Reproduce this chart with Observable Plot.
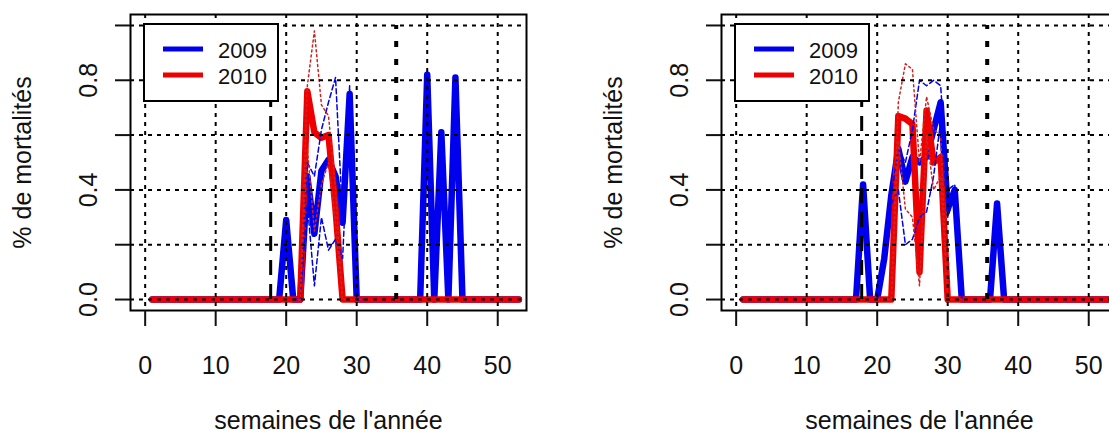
<!DOCTYPE html>
<html>
<head>
<meta charset="utf-8">
<script src="https://cdn.jsdelivr.net/npm/d3@7"></script>
<script src="https://cdn.jsdelivr.net/npm/@observablehq/plot@0.6"></script>
<style>
  html, body { margin: 0; padding: 0; background: white; overflow: hidden; width: 1109px; height: 436px; }
  #wrap { display: flex; width: 1182px; }
  .panel { position: relative; width: 591px; height: 436px; flex: none; }
  .legend { position: absolute; }
</style>
</head>
<body>
<div id="wrap"></div>
<script>
// ---- data ----
const weeks = d3.range(1, 54); // semaines 1..53

// left panel (A)
const blue2009A = [0,0,0,0,0,0,0,0,0,0, 0,0,0,0,0,0,0,0,0,0.29, 0,0,0.45,0.24,0.47,0.51,0.45,0.28,0.75,0,
                   0,0,0,0,0,0,0,0,0,0.82, 0,0.61,0,0.81,0,0,0,0,0,0, 0,0,0];
const red2010A  = [0,0,0,0,0,0,0,0,0,0, 0,0,0,0,0,0,0,0,0,0, 0,0,0.76,0.61,0.59,0.60,0.33,0,0,0,
                   0,0,0,0,0,0,0,0,0,0, 0,0,0,0,0,0,0,0,0,0, 0,0,0];
const thinWeeksA = [21,22,23,24,25,26,27,28,29,30,31];
const blueHiA = [0,0,0.50,0.45,0.62,0.72,0.81,0.30,0.78,0,0];
const blueLoA = [0,0,0.35,0.05,0.30,0.18,0.22,0.15,0.70,0,0];
const redHiA  = [0,0,0.78,0.98,0.71,0.67,0.40,0,0,0,0];
const redLoA  = [0,0,0.55,0.25,0.42,0.50,0.28,0,0,0,0];

// right panel (B)
const blue2009B = [0,0,0,0,0,0,0,0,0,0, 0,0,0,0,0,0,0,0.42,0,0, 0.15,0.38,0.55,0.43,0.52,0.50,0.52,0.62,0.72,0.33,
                   0.40,0,0,0,0,0,0.35,0,0,0, 0,0,0,0,0,0,0,0,0,0, 0,0,0];
const red2010B  = [0,0,0,0,0,0,0,0,0,0, 0,0,0,0,0,0,0,0,0,0, 0,0,0.67,0.66,0.64,0.10,0.69,0.50,0.52,0,
                   0,0,0,0,0,0,0,0,0,0, 0,0,0,0,0,0,0,0,0,0, 0,0,0];
const thinWeeksB = [20,21,22,23,24,25,26,27,28,29,30,31,32];
const blueHiB = [0,0.15,0.38,0.55,0.50,0.62,0.80,0.78,0.80,0.78,0.40,0.42,0];
const blueLoB = [0,0.15,0.35,0.40,0.20,0.22,0.30,0.32,0.45,0.65,0.30,0.38,0];
const redHiB  = [0,0,0,0.72,0.86,0.84,0.50,0.74,0.62,0.60,0,0,0];
const redLoB  = [0,0,0,0.58,0.33,0.30,0.05,0.60,0.40,0.45,0,0,0];

const refDashed = [17.8];
const refDotted = [35.6];

const xTicks = [0, 10, 20, 30, 40, 50];
const yTicks = [0, 0.2, 0.4, 0.6, 0.8, 1.0];
const yTickLabels = ["0.0", "", "0.4", "", "0.8", ""];
const seriesNames = ["2009", "2010"];
const seriesColors = ["#0000ee", "#ee0000"];

const panels = [
  {blue: blue2009A, red: red2010A, tw: thinWeeksA, bh: blueHiA, bl: blueLoA, rh: redHiA, rl: redLoA},
  {blue: blue2009B, red: red2010B, tw: thinWeeksB, bh: blueHiB, bl: blueLoB, rh: redHiB, rl: redLoB}
];

const FONT = "'Liberation Sans', Arial, sans-serif";

function makePanel(p) {
  const thick = 6.5;
  const gridStyle = {stroke: "black", strokeOpacity: 1, strokeWidth: 2, strokeDasharray: "4,5"};
  return Plot.plot({
    width: 591, height: 436,
    marginLeft: 130, marginRight: 65, marginTop: 14, marginBottom: 126,
    x: {domain: [-2.08, 54.08]},
    y: {domain: [-0.04, 1.04]},
    style: {fontFamily: FONT, fontSize: "25px", color: "#111", background: "white", overflow: "visible"},
    marks: [
      Plot.lineY(p.blue, {x: weeks, stroke: seriesColors[0], strokeWidth: thick}),
      Plot.lineY(p.red, {x: weeks, stroke: seriesColors[1], strokeWidth: thick}),
      Plot.lineY(p.bh, {x: p.tw, stroke: seriesColors[0], strokeWidth: 1.5, strokeDasharray: "5,3"}),
      Plot.lineY(p.bl, {x: p.tw, stroke: seriesColors[0], strokeWidth: 1.5, strokeDasharray: "5,3"}),
      Plot.lineY(p.rh, {x: p.tw, stroke: "#d42020", strokeWidth: 1.5, strokeDasharray: "2,3"}),
      Plot.lineY(p.rl, {x: p.tw, stroke: "#d42020", strokeWidth: 1.5, strokeDasharray: "2,3"}),
      Plot.gridX(xTicks, gridStyle),
      Plot.gridY(yTicks, gridStyle),
      Plot.ruleX(refDashed, {y1: 0, y2: 1, stroke: "black", strokeWidth: 3, strokeDasharray: "15,9"}),
      Plot.ruleX(refDotted, {y1: 0, y2: 1, stroke: "black", strokeWidth: 4, strokeDasharray: "6,12"}),
      Plot.frame({stroke: "black", strokeWidth: 2}),
      Plot.axisX(xTicks, {tickSize: 16, tickPadding: 30, strokeWidth: 2,
        label: "semaines de l'année", labelAnchor: "center", labelArrow: "none", labelOffset: 118}),
      Plot.axisY(yTicks, {tickSize: 15, tickPadding: 19, strokeWidth: 2, tickRotate: -90,
        tickFormat: d => yTickLabels[yTicks.indexOf(d)],
        label: "% de mortalités", labelAnchor: "center", labelArrow: "none", labelOffset: 117})
    ]
  });
}

function makeLegend() {
  const ns = "http://www.w3.org/2000/svg";
  const svg = document.createElementNS(ns, "svg");
  svg.setAttribute("width", 137);
  svg.setAttribute("height", 80);
  svg.setAttribute("class", "legend");
  svg.style.left = "143px";
  svg.style.top = "23px";
  const rect = document.createElementNS(ns, "rect");
  rect.setAttribute("x", 1); rect.setAttribute("y", 1);
  rect.setAttribute("width", 134); rect.setAttribute("height", 77);
  rect.setAttribute("fill", "white"); rect.setAttribute("stroke", "black"); rect.setAttribute("stroke-width", 2);
  svg.appendChild(rect);
  seriesNames.forEach((name, i) => {
    const yy = 26 + i * 26;
    const ln = document.createElementNS(ns, "line");
    ln.setAttribute("x1", 20); ln.setAttribute("x2", 60);
    ln.setAttribute("y1", yy); ln.setAttribute("y2", yy);
    ln.setAttribute("stroke", seriesColors[i]); ln.setAttribute("stroke-width", 5);
    svg.appendChild(ln);
    const t = document.createElementNS(ns, "text");
    t.setAttribute("x", 75); t.setAttribute("y", yy + 9);
    t.setAttribute("font-family", FONT); t.setAttribute("font-size", 22);
    t.setAttribute("fill", "#111");
    t.textContent = name;
    svg.appendChild(t);
  });
  return svg;
}

const wrap = document.getElementById("wrap");
panels.forEach(p => {
  const div = document.createElement("div");
  div.className = "panel";
  div.appendChild(makePanel(p));
  div.appendChild(makeLegend());
  wrap.appendChild(div);
});
</script>
</body>
</html>
